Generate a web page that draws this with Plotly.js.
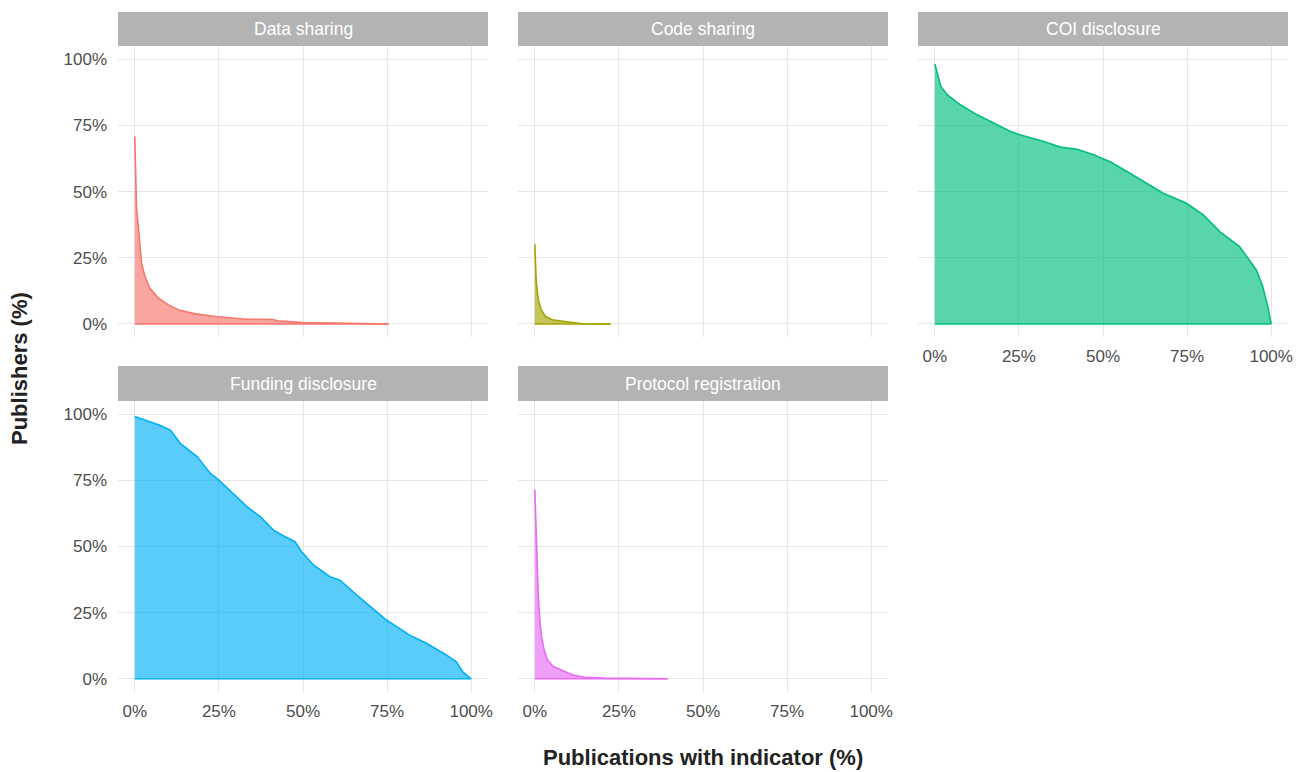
<!DOCTYPE html>
<html>
<head>
<meta charset="utf-8">
<script src="https://cdn.plot.ly/plotly-3.0.1.min.js"></script>
<style>html,body{margin:0;padding:0;background:#fff;}#chart{width:1313px;height:772px;}</style>
</head>
<body>
<div id="chart"></div>
<script>
// ---- Data ----
const panelTitles = ["Data sharing", "Code sharing", "COI disclosure", "Funding disclosure", "Protocol registration"];
const panelColors = ["#F8766D", "#A3A500", "#00BF7D", "#00B0F6", "#E76BF3"];
const tickValues = [0, 25, 50, 75, 100];
const tickLabels = ["0%", "25%", "50%", "75%", "100%"];

const dataSharingX = [0, 0.2, 0.5, 0.8, 1.5, 2, 3, 4.5, 7, 10, 13, 18, 24, 33, 41, 42.5, 50, 60, 75.5];
const dataSharingY = [70.8, 53, 44, 40, 28, 23, 18, 13.5, 9.7, 7.2, 5.3, 3.8, 2.8, 1.8, 1.7, 1.2, 0.5, 0.2, 0];

const codeSharingX = [0, 0.4, 0.8, 1.2, 2, 3.1, 5.1, 8.1, 10, 14, 22.5];
const codeSharingY = [30.1, 16.5, 11.5, 8.3, 5.2, 2.9, 1.6, 1.1, 0.5, 0.1, 0];

const coiX = [0, 0.8, 1.8, 3.75, 7.7, 12.6, 17.6, 22.5, 25.5, 32.4, 37.3, 42.3, 47.2, 52.1, 57.1, 62, 67.9, 74.8, 79.8, 84.7, 90.6, 95.6, 97.5, 99, 100];
const coiY = [98.2, 94.7, 89.7, 86.5, 82.7, 79, 75.8, 72.7, 71.4, 68.9, 66.8, 66, 63.9, 61.3, 57.6, 53.8, 49.4, 45.6, 41.2, 34.9, 29.2, 20.4, 14.1, 6.5, 0];

const fundingX = [0, 2.7, 7.6, 10.6, 13.5, 18.5, 22.4, 24.9, 29.3, 33.3, 37.3, 41.2, 44.7, 47.6, 49.6, 53.1, 58, 61, 65.9, 70.8, 74.8, 81.7, 86.7, 92.6, 95.6, 97.5, 100];
const fundingY = [99.1, 97.9, 95.7, 94, 89, 84, 77.7, 75.2, 70.1, 65.1, 61.3, 56.2, 53.7, 51.8, 48, 43, 38.6, 37.3, 31.7, 26.6, 22.2, 16.5, 13.4, 9, 6.4, 2.6, 0];

const protocolX = [0, 0.5, 1.0, 1.5, 2, 2.8, 3.75, 5.4, 7.9, 10.9, 14.8, 20.7, 39.5];
const protocolY = [71.5, 48.5, 32, 22, 15.8, 10.7, 7.2, 4.7, 3.2, 1.6, 0.6, 0.25, 0];

const seriesX = [dataSharingX, codeSharingX, coiX, fundingX, protocolX];
const seriesY = [dataSharingY, codeSharingY, coiY, fundingY, protocolY];

// ---- Layout geometry ----
const W = 1313, H = 772;
const colPx = [[118, 488], [518, 888], [918, 1288]];
const rowPx = [[46, 337.2], [401, 692]];       // panel top/bottom in px
const stripPx = [[12, 46], [366, 401]];        // strip top/bottom in px
const panelPos = [[0, 0], [0, 1], [0, 2], [1, 0], [1, 1]];
const showXLabels = [false, false, true, true, true];
const showYLabels = [true, false, false, true, false];

function hexToRgba(hex, a) {
  const r = parseInt(hex.slice(1, 3), 16), g = parseInt(hex.slice(3, 5), 16), b = parseInt(hex.slice(5, 7), 16);
  return `rgba(${r},${g},${b},${a})`;
}

const FONT = "Liberation Sans, Arial, Helvetica, sans-serif";
const traces = [];
const layout = {
  width: W, height: H,
  margin: {l: 0, r: 0, t: 0, b: 0},
  paper_bgcolor: "#ffffff", plot_bgcolor: "#ffffff",
  showlegend: false,
  font: {family: FONT, size: 17, color: "#4D4D4D"},
  shapes: [], annotations: []
};

panelTitles.forEach((title, i) => {
  const n = i + 1;
  const suffix = n === 1 ? "" : String(n);
  const [r, c] = panelPos[i];
  const xd = [colPx[c][0] / W, colPx[c][1] / W];
  const yd = [1 - rowPx[r][1] / H, 1 - rowPx[r][0] / H];
  const color = panelColors[i];
  const xs = seriesX[i], ys = seriesY[i];

  traces.push({
    type: "scatter", mode: "lines", x: xs, y: ys,
    xaxis: "x" + suffix, yaxis: "y" + suffix,
    fill: "tozeroy", fillcolor: hexToRgba(color, 0.65),
    line: {color: color, width: 1.6}, hoverinfo: "skip"
  });
  traces.push({
    type: "scatter", mode: "lines", x: [xs[0], xs[xs.length - 1]], y: [0, 0],
    xaxis: "x" + suffix, yaxis: "y" + suffix,
    line: {color: color, width: 1.6}, hoverinfo: "skip"
  });

  const axisCommon = {
    range: [-5, 105], tickvals: tickValues, ticktext: tickLabels,
    showgrid: true, gridcolor: "#E6E6E6", gridwidth: 1,
    zeroline: false, showline: false, ticks: "",
    tickfont: {family: FONT, size: 17, color: "#4D4D4D"},
    fixedrange: true
  };
  layout["xaxis" + suffix] = Object.assign({}, axisCommon, {
    domain: xd, anchor: "y" + suffix, showticklabels: showXLabels[i], ticklabelstandoff: 7
  });
  layout["yaxis" + suffix] = Object.assign({}, axisCommon, {
    domain: yd, anchor: "x" + suffix, showticklabels: showYLabels[i], ticklabelstandoff: 10
  });

  // strip background
  layout.shapes.push({
    type: "rect", xref: "paper", yref: "paper", layer: "below",
    x0: xd[0], x1: xd[1], y0: 1 - stripPx[r][1] / H, y1: 1 - stripPx[r][0] / H,
    fillcolor: "#B3B3B3", line: {width: 0}
  });
  layout.annotations.push({
    xref: "paper", yref: "paper", showarrow: false,
    x: (xd[0] + xd[1]) / 2, y: 1 - (stripPx[r][0] + stripPx[r][1]) / 2 / H,
    xanchor: "center", yanchor: "middle",
    text: title, font: {family: FONT, size: 17.5, color: "#FFFFFF"}
  });
});

// axis titles
layout.annotations.push({
  xref: "paper", yref: "paper", showarrow: false,
  x: 703 / W, y: 1 - 757 / H, xanchor: "center", yanchor: "middle",
  text: "<b>Publications with indicator (%)</b>",
  font: {family: FONT, size: 22, color: "#222222"}
});
layout.annotations.push({
  xref: "paper", yref: "paper", showarrow: false,
  x: 20 / W, y: 1 - 369 / H, xanchor: "center", yanchor: "middle", textangle: -90,
  text: "<b>Publishers (%)</b>",
  font: {family: FONT, size: 22, color: "#222222"}
});

Plotly.newPlot("chart", traces, layout, {displayModeBar: false, staticPlot: true});
</script>
</body>
</html>
